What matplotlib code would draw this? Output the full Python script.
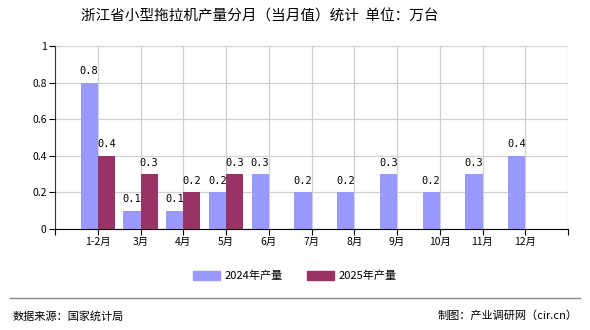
import numpy as np
import matplotlib
matplotlib.use('Agg')
import matplotlib.pyplot as plt
from matplotlib.patches import Patch
from matplotlib.lines import Line2D

plt.rcParams['font.family'] = ['Noto Sans CJK SC', 'DejaVu Sans']

months = ['1-2月', '3月', '4月', '5月', '6月', '7月', '8月', '9月', '10月', '11月', '12月']
prod_2024 = [0.8, 0.1, 0.1, 0.2, 0.3, 0.2, 0.2, 0.3, 0.2, 0.3, 0.4]
prod_2025 = [0.4, 0.3, 0.2, 0.3]
yticks = [0, 0.2, 0.4, 0.6, 0.8, 1]
ytick_labels = ['0', '0.2', '0.4', '0.6', '0.8', '1']

c24 = '#9999ff'
c25 = '#993366'

fig = plt.figure(figsize=(5.9, 3.3), dpi=100)
ax = fig.add_axes([55 / 590, 101 / 330, 513 / 590, 183 / 330])

x = np.arange(1, len(months) + 1)
w = 0.4
ax.bar(x[:len(prod_2024)] - w / 2, prod_2024, width=w, color=c24, zorder=3)
ax.bar(x[:len(prod_2025)] + w / 2, prod_2025, width=w, color=c25, zorder=3)

for xi, v in zip(x, prod_2024):
    ax.text(xi - w / 2, v + 0.035, f'{v:.1f}', ha='center', va='bottom',
            fontsize=7.5, family='DejaVu Sans Mono', zorder=4)
for xi, v in zip(x, prod_2025):
    ax.text(xi + w / 2, v + 0.035, f'{v:.1f}', ha='center', va='bottom',
            fontsize=7.5, family='DejaVu Sans Mono', zorder=4)

ax.set_xlim(0, 12)
ax.set_ylim(0, 1)
ax.set_yticks(yticks)
ax.set_yticklabels(ytick_labels, fontsize=7.5)
ax.set_xticks(list(x) + [0, 12])
ax.set_xticklabels(months + ['', ''], fontsize=7.5)
ax.grid(True, color='#d0d0d0', linewidth=0.9, zorder=0)
for s in ['top', 'right']:
    ax.spines[s].set_visible(False)
ax.spines['left'].set_color('#333333')
ax.spines['bottom'].set_color('#000000')
ax.tick_params(axis='both', length=4, width=0.8, pad=2)

fig.text(260 / 590, 1 - 17 / 330, '浙江省小型拖拉机产量分月（当月值）统计  单位：万台',
         ha='center', va='center', fontsize=10.5)

handles = [Patch(color=c24, label='2024年产量'), Patch(color=c25, label='2025年产量')]
fig.legend(handles=handles, loc='center', bbox_to_anchor=(0.5, 1 - 276 / 330),
           ncol=2, frameon=False, fontsize=8, handlelength=2.4, handleheight=0.9,
           columnspacing=2.2, handletextpad=0.4)

fig.add_artist(Line2D([10 / 590, 580 / 590], [1 - 298 / 330] * 2, color='#888888', linewidth=1))
fig.text(13 / 590, 1 - 316 / 330, '数据来源：国家统计局', ha='left', va='center', fontsize=8)
fig.text(578 / 590, 1 - 316 / 330, '制图：产业调研网（cir.cn）', ha='right', va='center', fontsize=8)

fig.savefig('out.png', dpi=100)
